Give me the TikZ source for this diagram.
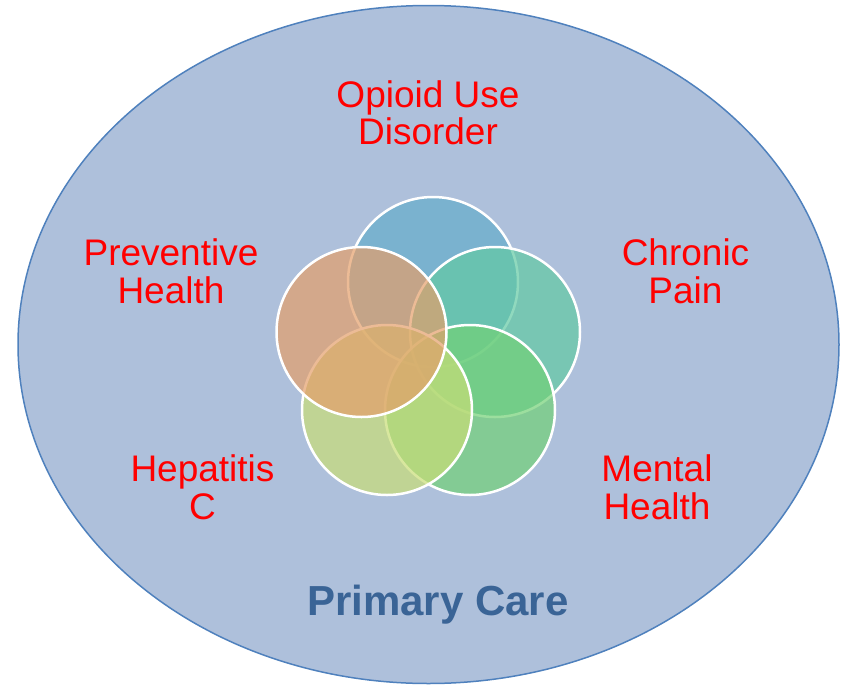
\documentclass[tikz,border=0pt]{standalone}
\usepackage{fontspec}
\setmainfont{Liberation Sans}
\definecolor{careblue}{RGB}{174,192,219}
\definecolor{rimblue}{RGB}{79,129,189}
\definecolor{titleblue}{RGB}{58,100,150}
\definecolor{oudblue}{RGB}{100,173,202}
\definecolor{painteal}{RGB}{98,201,163}
\definecolor{mentgreen}{RGB}{114,209,118}
\definecolor{hepyellow}{RGB}{200,221,118}
\definecolor{prevorange}{RGB}{228,159,106}
\tikzset{petal/.style={draw=white,line width=2.5pt,fill opacity=0.7},
  topic/.style={text=red,align=center,inner sep=0pt,font=\fontsize{37}{37.5}\selectfont}}

\begin{document}
\begin{tikzpicture}[x=1pt,y=-1pt]
  \useasboundingbox (0,0) rectangle (844,686);
  \draw [rimblue,fill=careblue,line width=1.5pt] (428.5,344.5) ellipse (410.5 and 339);
  \draw [petal,fill=oudblue] (433,282) circle (85);
  \draw [petal,fill=painteal] (495,332) circle (85);
  \draw [petal,fill=mentgreen] (470,410) circle (85);
  \draw [petal,fill=hepyellow] (387,410) circle (85);
  \draw [petal,fill=prevorange] (361.5,332) circle (85);
  \node [topic] (oud) at (428,113) {Opioid Use\\Disorder};
  \node [topic] (prev) at (171,271.5) {Preventive\\Health};
  \node [topic] (pain) at (685.5,271.5) {Chronic\\Pain};
  \node [topic] (hep) at (202.5,487.5) {Hepatitis\\C};
  \node [topic] (ment) at (657,487.5) {Mental\\Health};
  \node [anchor=base,text=titleblue,font=\fontsize{42}{43}\selectfont\bfseries] (care) at (438,615) {Primary Care};
\end{tikzpicture}
\end{document}
